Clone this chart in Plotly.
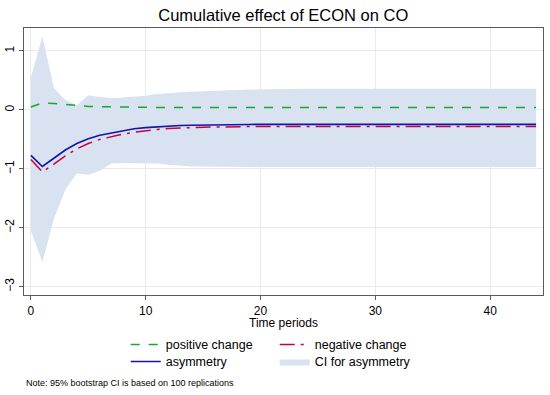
import plotly.graph_objects as go

periods = list(range(45))
positive = [0.05, 0.12, 0.11, 0.09, 0.07, 0.06, 0.055, 0.05, 0.048, 0.046, 0.044, 0.043, 0.042, 0.041, 0.04] + [0.04] * 30
asymmetry = [-0.77, -0.96, -0.82, -0.68, -0.57, -0.49, -0.43, -0.39, -0.35, -0.32, -0.30, -0.285, -0.275, -0.265,
             -0.26, -0.255, -0.25, -0.25, -0.248, -0.246] + [-0.245] * 25
negative = [-0.84, -1.05, -0.92, -0.78, -0.66, -0.57, -0.50, -0.45, -0.41, -0.38, -0.35, -0.33, -0.315, -0.305,
            -0.30, -0.295, -0.29, -0.285, -0.283, -0.281] + [-0.28] * 25
ci_upper = [0.55, 1.25, 0.37, 0.17, 0.08, 0.25, 0.22, 0.20, 0.21, 0.22, 0.24, 0.27, 0.29, 0.30, 0.31, 0.32,
            0.33, 0.335, 0.34, 0.345, 0.35, 0.352, 0.355, 0.357] + [0.36] * 21
ci_lower = [-2.05, -2.58, -1.85, -1.35, -1.08, -1.10, -1.03, -0.91, -0.90, -0.90, -0.90, -0.91, -0.93, -0.95,
            -0.96, -0.96, -0.965] + [-0.97] * 28

fill_col = "rgb(216,226,240)"
fig = go.Figure()
fig.add_trace(go.Scatter(x=periods, y=ci_lower, mode="lines", line=dict(width=0, color=fill_col),
                         showlegend=False, hoverinfo="skip"))
fig.add_trace(go.Scatter(x=periods, y=ci_upper, mode="lines", line=dict(width=0, color=fill_col),
                         fill="tonexty", fillcolor=fill_col, name="CI for asymmetry", legend="legend2"))
fig.add_trace(go.Scatter(x=periods, y=positive, mode="lines", name="positive change",
                         line=dict(color="rgb(20,170,40)", width=1.5, dash="dash"), legend="legend"))
fig.add_trace(go.Scatter(x=periods, y=negative, mode="lines", name="negative change",
                         line=dict(color="rgb(200,0,60)", width=1.5, dash="longdashdot"), legend="legend"))
fig.add_trace(go.Scatter(x=periods, y=asymmetry, mode="lines", name="asymmetry",
                         line=dict(color="rgb(20,20,170)", width=1.6), legend="legend2"))

font = "Liberation Sans, Arial, sans-serif"
fig.update_layout(
    width=550, height=395,
    margin=dict(l=24, r=7, t=28, b=100, autoexpand=False),
    paper_bgcolor="white", plot_bgcolor="white",
    font=dict(family=font, color="black", size=12),
    title=dict(text="Cumulative effect of ECON on CO", x=0.515, xanchor="center", y=0.962, yanchor="middle",
               font=dict(size=16.5, family=font)),
    xaxis=dict(range=[-0.6, 44.6], tickvals=[0, 10, 20, 30, 40], showgrid=True, gridcolor="rgb(234,234,234)",
               zeroline=False, showline=True, linecolor="rgb(90,90,90)", linewidth=1.2, mirror=True,
               ticks="outside", ticklen=4, tickcolor="rgb(90,90,90)", automargin=False),
    yaxis=dict(range=[-3.14, 1.39], tickvals=[1, 0, -1, -2, -3], showgrid=True, gridcolor="rgb(234,234,234)",
               zeroline=False, showline=True, linecolor="rgb(90,90,90)", linewidth=1.2, mirror=True,
               ticks="outside", ticklen=4, tickcolor="rgb(90,90,90)", tickangle=-90, automargin=False),
    legend=dict(orientation="h", x=0.196, xanchor="left", y=0.127, yref="container", yanchor="middle",
                entrywidth=104, entrywidthmode="pixels", font=dict(size=12.5), tracegroupgap=0,
                bgcolor="rgba(0,0,0,0)"),
    legend2=dict(orientation="h", x=0.196, xanchor="left", y=0.084, yref="container", yanchor="middle",
                 entrywidth=104, entrywidthmode="pixels", font=dict(size=12.5), tracegroupgap=0,
                 traceorder="reversed", bgcolor="rgba(0,0,0,0)"),
    annotations=[
        dict(text="Time periods", xref="paper", yref="paper", x=0.5, y=-0.105, xanchor="center",
             yanchor="middle", showarrow=False, font=dict(size=12, family=font)),
        dict(text="Note: 95% bootstrap CI is based on 100 replications", xref="paper", yref="paper",
             x=0.0, y=-0.33, xanchor="left", yanchor="middle", showarrow=False,
             font=dict(size=9, family=font)),
    ],
)
fig.write_html("out.html", config={"displayModeBar": False},
               post_script="document.body.style.margin='0';")
